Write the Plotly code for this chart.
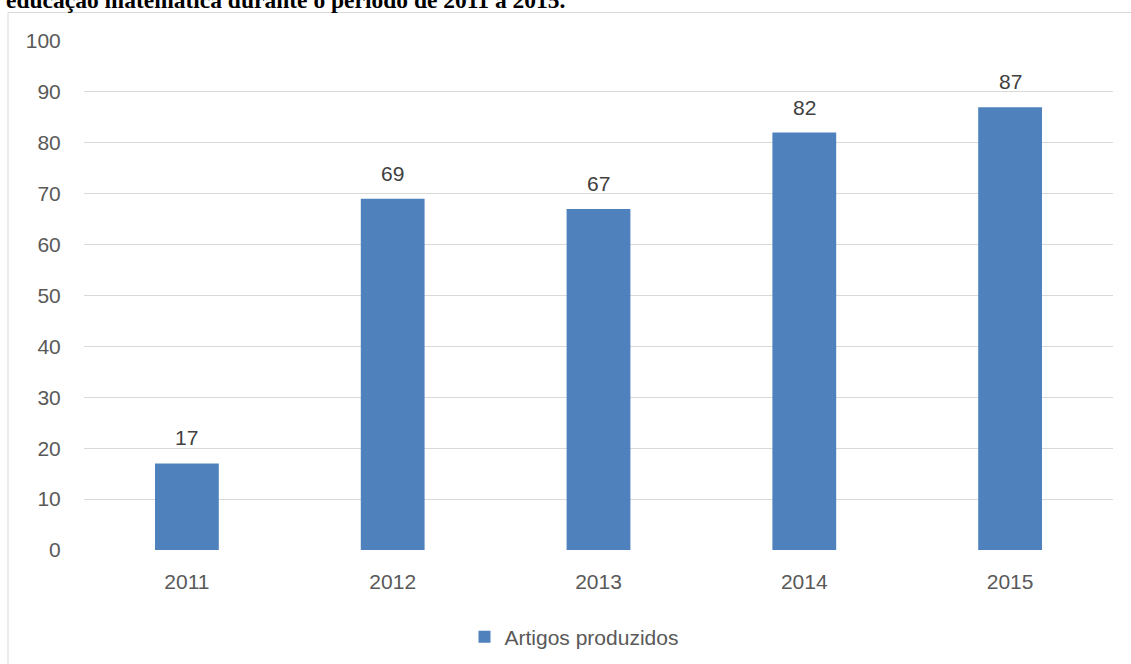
import plotly.graph_objects as go

# Artigos produzidos por ano
anos = ["2011", "2012", "2013", "2014", "2015"]
artigos = [17, 69, 67, 82, 87]
y_ticks = [0, 10, 20, 30, 40, 50, 60, 70, 80, 90, 100]

W, H = 1131, 664
L, R, T, B = 84, 18, 41, 114
pw, ph = W - L - R, H - T - B


def px_x(x):
    return (x - L) / pw


def px_y(y):
    return (H - B - y) / ph


fig = go.Figure()
fig.add_trace(go.Bar(
    x=anos,
    y=artigos,
    name="Artigos produzidos",
    marker=dict(color="#4f81bd", line=dict(width=0)),
))

# value labels above each bar (category index on the x axis)
labels = [dict(
    x=i, y=v, xref="x", yref="y",
    text=str(v), showarrow=False,
    yanchor="bottom", yshift=12,
    font=dict(family="Liberation Sans", size=21, color="#404040"),
) for i, v in enumerate(artigos)]

title = dict(
    text="<b>educação matemática durante o período de 2011 a 2015.</b>",
    xref="paper", yref="paper",
    x=px_x(4), xanchor="left",
    y=px_y(15), yanchor="bottom",
    showarrow=False,
    font=dict(family="Liberation Serif", size=23.5, color="black"),
)

fig.update_layout(
    width=W,
    height=H,
    margin=dict(l=L, r=R, t=T, b=B, autoexpand=False),
    paper_bgcolor="white",
    plot_bgcolor="white",
    bargap=0.69,
    font=dict(family="Liberation Sans", size=21, color="#595959"),
    showlegend=True,
    legend=dict(
        orientation="h",
        x=px_x(574), xanchor="center",
        y=px_y(637), yanchor="middle",
        font=dict(family="Liberation Sans", size=21, color="#595959"),
    ),
    xaxis=dict(
        type="category",
        range=[-0.5, len(anos) - 0.5],
        showgrid=False, showline=False, zeroline=False,
        ticks="outside", ticklen=13, tickcolor="rgba(0,0,0,0)",
        tickfont=dict(size=21, color="#595959"),
    ),
    yaxis=dict(
        range=[0, 100],
        tickvals=y_ticks,
        showgrid=True, gridcolor="#d9d9d9", gridwidth=1,
        zeroline=False, showline=False,
        ticks="outside", ticklen=18, tickcolor="rgba(0,0,0,0)",
        tickfont=dict(size=21, color="#595959"),
    ),
    shapes=[dict(
        type="rect", xref="paper", yref="paper",
        x0=px_x(8), x1=px_x(W + 20), y0=px_y(H + 20), y1=px_y(12.5),
        line=dict(color="#d9d9d9", width=1), fillcolor="rgba(0,0,0,0)",
        layer="below",
    )],
    annotations=labels + [title],
)

fig.write_html("out.html")
